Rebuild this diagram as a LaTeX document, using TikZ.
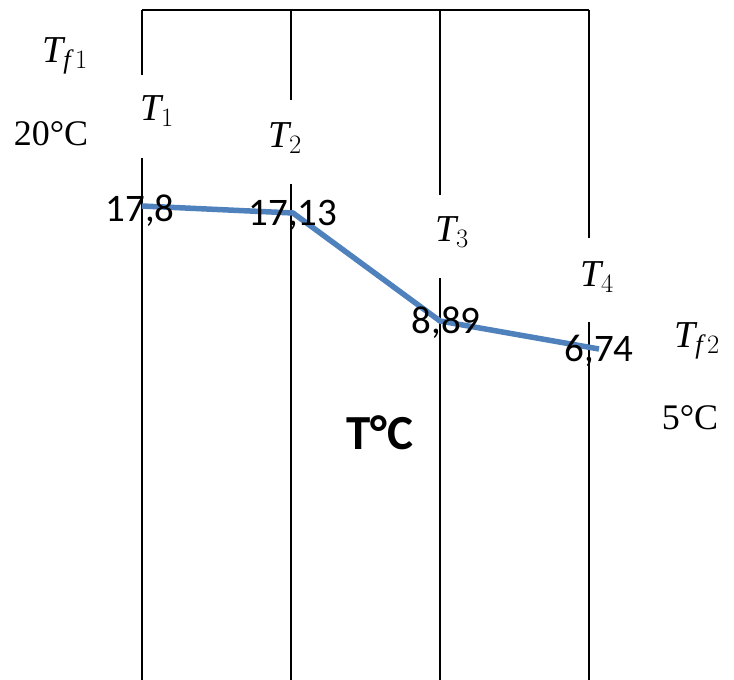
\documentclass[tikz,border=0pt]{standalone}
\usepackage{fix-cm}
\usepackage{fontspec}
\setmainfont{Liberation Serif}
\newfontfamily\calfont{Carlito}
\usetikzlibrary{positioning}
\definecolor{chartblue}{RGB}{79,129,189}
\newcommand{\tsym}[1]{$\mathit{T}_{#1}$}
\tikzset{
  wall/.style={draw=black,line width=1.8pt},
  curve/.style={draw=chartblue,line width=5.5pt,line join=round},
  tlab/.style={inner sep=0pt,font=\fontsize{38}{42}\selectfont},
  vallab/.style={inner sep=0pt,font=\calfont\fontsize{39}{42}\selectfont},
  fluid/.style={inner sep=0pt,font=\fontsize{36}{40}\selectfont},
}
\begin{document}
\begin{tikzpicture}[x=1pt,y=-1pt]
  \useasboundingbox (0,0) rectangle (734,680);
  % walls: x / bottom of upper piece / top of lower piece
  \foreach \x/\a/\b [count=\i] in {142/75/158,291/100/184,440/195/278,589/238/322}{
    \coordinate (top\i) at (\x,10);
    \coordinate (up\i) at (\x,\a);
    \coordinate (lo\i) at (\x,\b);
    \coordinate (bot\i) at (\x,680);
    \draw[wall] (top\i) -- (up\i) (lo\i) -- (bot\i);
  }
  \draw[wall] (top1) -- (top4);
  % temperature labels
  \node[tlab] (tf1) at (65,56) {\tsym{\mathit{f}\,1}};
  \node[fluid] (t20) at (51,134) {20°C};
  \node[tlab] (t1) at (157,111) {\tsym{1}};
  \node[tlab] (t2) at (285,138) {\tsym{2}};
  \node[tlab] (t3) at (452,232) {\tsym{3}};
  \node[tlab] (t4) at (597,277) {\tsym{4}};
  \node[tlab] (tf2) at (697,341) {\tsym{\mathit{f}\,2}};
  \node[fluid] (t5) at (690,418) {5°C};
  % profile
  \coordinate (p1) at (142,206);
  \coordinate (p2) at (293,213);
  \coordinate (p3) at (440,321);
  \coordinate (p4) at (599,349);
  \draw[curve] (p1) -- (p2) -- (p3) -- (p4);
  \node[vallab] (v1) at (140,211) {17,8};
  \node[vallab] (v2) at (293,215) {17,13};
  \node[vallab] (v3) at (446,323) {8,89};
  \node[vallab] (v4) at (599,351) {6,74};
  \node[inner sep=0pt,font=\calfont\bfseries\fontsize{49}{52}\selectfont] (tc) at (380,433) {T°C};
\end{tikzpicture}
\end{document}
